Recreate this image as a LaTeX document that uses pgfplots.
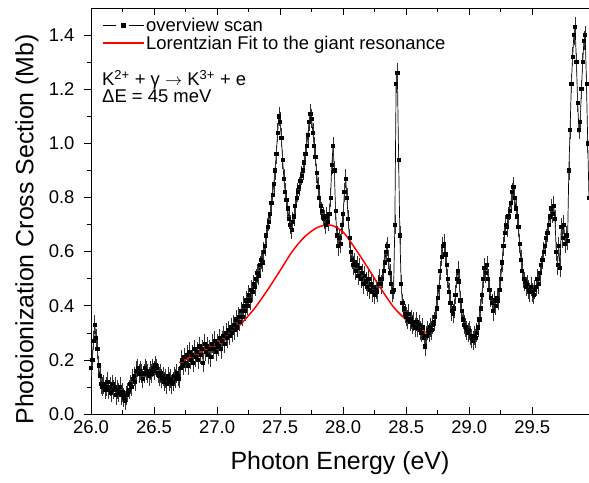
\documentclass[border=0pt]{standalone}
\usepackage{fontspec}
\setmainfont{Liberation Sans}
\usepackage{pgfplots}
\pgfplotsset{compat=1.18}
\usepackage{pgfplotstable}

\pgfplotstableread[row sep=\\]{
x y\\
26.00 0.17\\ 26.01 0.20\\ 26.02 0.27\\ 26.03 0.33\\ 26.04 0.28\\ 26.05 0.24\\ 26.06 0.18\\ 26.07 0.14\\ 26.08 0.11\\ 26.09 0.10\\
26.10 0.11\\ 26.11 0.09\\ 26.12 0.10\\ 26.13 0.12\\ 26.14 0.09\\ 26.15 0.10\\ 26.16 0.08\\ 26.17 0.11\\ 26.18 0.09\\ 26.19 0.10\\
26.20 0.07\\ 26.21 0.09\\ 26.22 0.08\\ 26.23 0.10\\ 26.24 0.07\\ 26.25 0.08\\ 26.26 0.06\\ 26.27 0.05\\ 26.28 0.07\\ 26.29 0.08\\
26.30 0.09\\ 26.31 0.11\\ 26.32 0.10\\ 26.33 0.13\\ 26.34 0.14\\ 26.35 0.12\\ 26.36 0.16\\ 26.37 0.17\\ 26.38 0.15\\ 26.39 0.16\\
26.40 0.15\\ 26.41 0.13\\ 26.42 0.15\\ 26.43 0.17\\ 26.44 0.16\\ 26.45 0.15\\ 26.46 0.14\\ 26.47 0.16\\ 26.48 0.15\\ 26.49 0.17\\
26.50 0.16\\ 26.51 0.18\\ 26.52 0.17\\ 26.53 0.15\\ 26.54 0.14\\ 26.55 0.15\\ 26.56 0.13\\ 26.57 0.14\\ 26.58 0.12\\ 26.59 0.13\\
26.60 0.11\\ 26.61 0.14\\ 26.62 0.12\\ 26.63 0.13\\ 26.64 0.11\\ 26.65 0.12\\ 26.66 0.14\\ 26.67 0.13\\ 26.68 0.15\\ 26.69 0.14\\
26.70 0.13\\ 26.71 0.17\\ 26.72 0.20\\ 26.73 0.18\\ 26.74 0.21\\ 26.75 0.19\\ 26.76 0.22\\ 26.77 0.18\\ 26.78 0.23\\ 26.79 0.20\\
26.80 0.22\\ 26.81 0.19\\ 26.82 0.24\\ 26.83 0.21\\ 26.84 0.23\\ 26.85 0.20\\ 26.86 0.25\\ 26.87 0.22\\ 26.88 0.24\\ 26.89 0.19\\
26.90 0.26\\ 26.91 0.23\\ 26.92 0.25\\ 26.93 0.22\\ 26.94 0.24\\ 26.95 0.21\\ 26.96 0.26\\ 26.97 0.24\\ 26.98 0.27\\ 26.99 0.23\\
27.00 0.26\\ 27.01 0.25\\ 27.02 0.28\\ 27.03 0.24\\ 27.04 0.27\\ 27.05 0.29\\ 27.06 0.26\\ 27.07 0.30\\ 27.08 0.28\\ 27.09 0.31\\
27.10 0.29\\ 27.11 0.32\\ 27.12 0.30\\ 27.13 0.33\\ 27.14 0.31\\ 27.15 0.35\\ 27.16 0.32\\ 27.17 0.36\\ 27.18 0.34\\ 27.19 0.38\\
27.20 0.36\\ 27.21 0.40\\ 27.22 0.38\\ 27.23 0.42\\ 27.24 0.40\\ 27.25 0.44\\ 27.26 0.42\\ 27.27 0.46\\ 27.28 0.45\\ 27.29 0.48\\
27.30 0.47\\ 27.31 0.50\\ 27.32 0.52\\ 27.33 0.51\\ 27.34 0.55\\ 27.35 0.57\\ 27.36 0.56\\ 27.37 0.60\\ 27.38 0.62\\ 27.39 0.66\\
27.40 0.69\\ 27.41 0.71\\ 27.42 0.74\\ 27.43 0.78\\ 27.44 0.81\\ 27.45 0.85\\ 27.46 0.90\\ 27.47 0.96\\ 27.48 1.04\\ 27.49 1.10\\
27.50 1.08\\ 27.51 1.02\\ 27.52 0.94\\ 27.53 0.87\\ 27.54 0.82\\ 27.55 0.79\\ 27.56 0.76\\ 27.57 0.72\\ 27.58 0.70\\ 27.59 0.68\\
27.60 0.71\\ 27.61 0.73\\ 27.62 0.77\\ 27.63 0.80\\ 27.64 0.82\\ 27.65 0.84\\ 27.66 0.86\\ 27.67 0.88\\ 27.68 0.90\\ 27.69 0.93\\
27.70 0.96\\ 27.71 0.99\\ 27.72 1.03\\ 27.73 1.08\\ 27.74 1.11\\ 27.75 1.09\\ 27.76 1.04\\ 27.77 0.99\\ 27.78 0.95\\ 27.79 0.89\\
27.80 0.84\\ 27.81 0.80\\ 27.82 0.77\\ 27.83 0.75\\ 27.84 0.73\\ 27.85 0.72\\ 27.86 0.70\\ 27.87 0.73\\ 27.88 0.71\\ 27.89 0.74\\
27.90 0.80\\ 27.91 0.92\\ 27.92 0.99\\ 27.93 0.90\\ 27.94 0.75\\ 27.95 0.66\\ 27.96 0.62\\ 27.97 0.65\\ 27.98 0.63\\ 27.99 0.70\\
28.00 0.74\\ 28.01 0.82\\ 28.02 0.87\\ 28.03 0.80\\ 28.04 0.72\\ 28.05 0.65\\ 28.06 0.60\\ 28.07 0.57\\ 28.08 0.55\\ 28.09 0.56\\
28.10 0.53\\ 28.11 0.55\\ 28.12 0.51\\ 28.13 0.54\\ 28.14 0.50\\ 28.15 0.52\\ 28.16 0.48\\ 28.17 0.51\\ 28.18 0.49\\ 28.19 0.47\\
28.20 0.50\\ 28.21 0.46\\ 28.22 0.48\\ 28.23 0.45\\ 28.24 0.47\\ 28.25 0.44\\ 28.26 0.46\\ 28.27 0.45\\ 28.28 0.48\\ 28.29 0.50\\
28.30 0.48\\ 28.31 0.50\\ 28.32 0.53\\ 28.33 0.56\\ 28.34 0.60\\ 28.35 0.62\\ 28.36 0.57\\ 28.37 0.52\\ 28.38 0.48\\ 28.39 0.45\\
28.40 0.46\\ 28.41 0.70\\ 28.42 1.22\\ 28.43 1.26\\ 28.44 0.94\\ 28.45 0.66\\ 28.46 0.48\\ 28.47 0.41\\ 28.48 0.39\\ 28.49 0.37\\
28.50 0.36\\ 28.51 0.35\\ 28.52 0.37\\ 28.53 0.34\\ 28.54 0.35\\ 28.55 0.33\\ 28.56 0.34\\ 28.57 0.32\\ 28.58 0.34\\ 28.59 0.32\\
28.60 0.33\\ 28.61 0.31\\ 28.62 0.30\\ 28.63 0.32\\ 28.64 0.28\\ 28.65 0.25\\ 28.66 0.29\\ 28.67 0.31\\ 28.68 0.30\\ 28.69 0.32\\
28.70 0.31\\ 28.71 0.33\\ 28.72 0.34\\ 28.73 0.36\\ 28.74 0.39\\ 28.75 0.43\\ 28.76 0.47\\ 28.77 0.53\\ 28.78 0.58\\ 28.79 0.62\\
28.80 0.63\\ 28.81 0.59\\ 28.82 0.55\\ 28.83 0.50\\ 28.84 0.45\\ 28.85 0.41\\ 28.86 0.38\\ 28.87 0.37\\ 28.88 0.39\\ 28.89 0.44\\
28.90 0.50\\ 28.91 0.53\\ 28.92 0.49\\ 28.93 0.42\\ 28.94 0.38\\ 28.95 0.35\\ 28.96 0.33\\ 28.97 0.32\\ 28.98 0.31\\ 28.99 0.30\\
29.00 0.31\\ 29.01 0.29\\ 29.02 0.28\\ 29.03 0.27\\ 29.04 0.29\\ 29.05 0.28\\ 29.06 0.30\\ 29.07 0.32\\ 29.08 0.35\\ 29.09 0.39\\
29.10 0.44\\ 29.11 0.50\\ 29.12 0.54\\ 29.13 0.52\\ 29.14 0.55\\ 29.15 0.50\\ 29.16 0.46\\ 29.17 0.43\\ 29.18 0.41\\ 29.19 0.38\\
29.20 0.42\\ 29.21 0.40\\ 29.22 0.43\\ 29.23 0.42\\ 29.24 0.46\\ 29.25 0.50\\ 29.26 0.56\\ 29.27 0.62\\ 29.28 0.67\\ 29.29 0.70\\
29.30 0.69\\ 29.31 0.73\\ 29.32 0.75\\ 29.33 0.78\\ 29.34 0.82\\ 29.35 0.84\\ 29.36 0.80\\ 29.37 0.76\\ 29.38 0.73\\ 29.39 0.69\\
29.40 0.63\\ 29.41 0.57\\ 29.42 0.53\\ 29.43 0.50\\ 29.44 0.49\\ 29.45 0.47\\ 29.46 0.48\\ 29.47 0.46\\ 29.48 0.45\\ 29.49 0.47\\
29.50 0.45\\ 29.51 0.44\\ 29.52 0.46\\ 29.53 0.47\\ 29.54 0.50\\ 29.55 0.48\\ 29.56 0.52\\ 29.57 0.55\\ 29.58 0.57\\ 29.59 0.60\\
29.60 0.62\\ 29.61 0.65\\ 29.62 0.67\\ 29.63 0.70\\ 29.64 0.73\\ 29.65 0.76\\ 29.66 0.74\\ 29.67 0.77\\ 29.68 0.72\\ 29.69 0.60\\
29.70 0.55\\ 29.71 0.62\\ 29.72 0.54\\ 29.73 0.69\\ 29.74 0.65\\ 29.75 0.70\\ 29.76 0.63\\ 29.77 0.66\\ 29.78 0.64\\ 29.79 0.90\\
29.80 1.05\\ 29.81 1.22\\ 29.82 1.32\\ 29.83 1.40\\ 29.84 1.43\\ 29.85 1.30\\ 29.86 1.15\\ 29.87 1.05\\ 29.88 1.08\\ 29.89 1.20\\
29.90 1.30\\ 29.91 1.38\\ 29.92 1.40\\ 29.93 1.22\\ 29.94 1.00\\ 29.95 0.80\\
}\scan

\pgfplotstableread[row sep=\\]{
x y\\
26.70 0.190\\ 26.80 0.212\\ 26.90 0.237\\ 27.00 0.262\\ 27.10 0.293\\ 27.20 0.338\\ 27.30 0.392\\
27.40 0.458\\ 27.50 0.530\\ 27.60 0.603\\ 27.70 0.657\\ 27.80 0.690\\ 27.90 0.698\\ 28.00 0.672\\
28.10 0.608\\ 28.20 0.537\\ 28.30 0.463\\ 28.40 0.395\\ 28.50 0.348\\ 28.60 0.315\\ 28.66 0.300\\
}\fit

\begin{document}
\begin{tikzpicture}
\begin{axis}[
  scale only axis, width=498bp, height=406bp,
  xmin=26, xmax=29.95, ymin=0, ymax=1.5,
  axis x line=box, axis y line=left,
  y axis line style={-},
  xtick={26,26.5,...,29.5}, ytick={0,0.2,...,1.4},
  minor x tick num=1, minor y tick num=1,
  tick align=inside, ytick align=outside,
  major tick length=7bp, minor tick length=4bp,
  tick style={black, line width=0.6pt},
  axis line style={line width=0.6pt},
  /pgf/number format/assume math mode=true,
  tick label style={font=\fontsize{18.5}{20}\selectfont},
  xticklabel style={yshift=-3bp, /pgf/number format/fixed, /pgf/number format/fixed zerofill, /pgf/number format/precision=1},
  yticklabel style={xshift=-6bp, /pgf/number format/fixed, /pgf/number format/fixed zerofill, /pgf/number format/precision=1},
  scaled ticks=false,
  xlabel={Photon Energy (eV)},
  ylabel={Photoionization Cross Section (Mb)},
  xlabel style={font=\fontsize{25}{30}\selectfont, at={(axis description cs:0.5,-0.1207)}, anchor=center},
  ylabel style={font=\fontsize{25}{30}\selectfont, at={(axis description cs:-0.1285,0.455)}, anchor=center},
  legend style={at={(axis description cs:0.0221,0.98)}, anchor=north west, draw=none, fill=none,
    font=\fontsize{18.5}{22}\selectfont, inner sep=0pt, row sep=0pt,
    nodes={inner sep=1.5pt}},
  legend cell align=left,
]
\addplot[black, line width=0.7pt, mark=square*, mark size=1.6pt,
  mark options={solid},
  legend image code/.code={
    \draw[black, line width=0.6pt] (0bp,0bp) -- (13bp,0bp);
    \fill[black] (18bp,-2bp) rectangle (22bp,2bp);
    \draw[black, line width=0.6pt] (26bp,0bp) -- (41bp,0bp);},
  error bars/.cd, y dir=both, y fixed=0.035, error mark=none,
  error bar style={line width=0.6pt, black!80}]
  table[x=x, y=y]{\scan};
\addlegendentry{overview scan}
\addplot[red, line width=1.5pt, smooth, forget plot] table[x=x, y=y]{\fit};
\addlegendimage{red, line width=1.5pt,
  legend image code/.code={\draw[red, line width=1.5pt] (0bp,0bp) -- (41bp,0bp);}}
\addlegendentry{Lorentzian Fit to the giant resonance}
\node[anchor=base west, font=\fontsize{18.5}{22}\selectfont, inner sep=0pt] at (rel axis cs:0.0221,0.808)
  {K\textsuperscript{2+} + γ $\rightarrow$ K\textsuperscript{3+} + e};
\node[anchor=base west, font=\fontsize{18.5}{22}\selectfont, inner sep=0pt] at (rel axis cs:0.0221,0.767)
  {ΔE = 45 meV};
\end{axis}
\pgfresetboundingbox
\path ([shift={(-91bp,-69bp)}]current axis.south west) rectangle ([shift={(0bp,8bp)}]current axis.north east);
\end{tikzpicture}
\end{document}
